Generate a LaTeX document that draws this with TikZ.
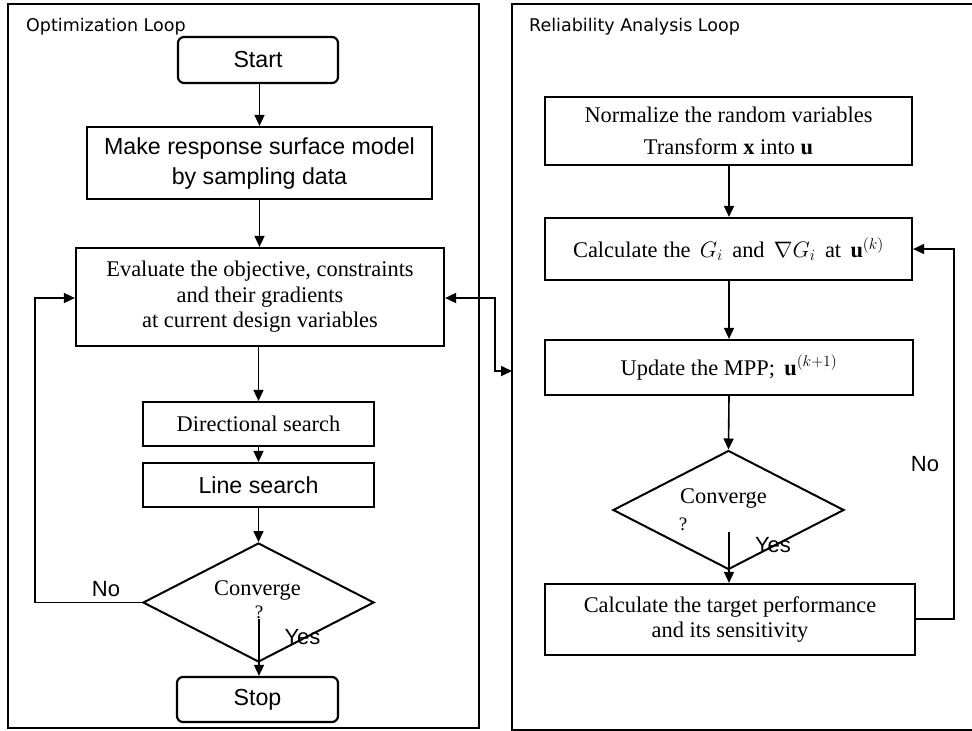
\RequirePackage{fix-cm}
\documentclass[tikz,border=0pt]{standalone}
\usepackage{fontspec}
\setmainfont{Liberation Serif}
\setsansfont{Liberation Sans}
\newfontfamily\titlefont{DejaVu Sans}
\usetikzlibrary{shapes.geometric,arrows.meta}
\begin{document}
\begin{tikzpicture}[x=1pt,y=-1pt,
  frame/.style={line width=1.5pt},
  box/.style={draw,line width=2.2pt,inner sep=0pt,align=center,font=\fontsize{22.4}{25.5}\selectfont},
  sbox/.style={box,font=\sffamily\fontsize{23.2}{30}\selectfont},
  rbox/.style={sbox,rounded corners=6pt},
  dia/.style={draw,diamond,line width=2pt,inner sep=0pt},
  conn/.style={line width=1.6pt,-{Triangle[length=11pt,width=10pt]}},
  biconn/.style={line width=1.8pt,{Triangle[length=11pt,width=10pt]}-{Triangle[length=11pt,width=10pt]}},
  lbl/.style={inner sep=0pt,font=\sffamily\fontsize{22}{22}\selectfont},
  slbl/.style={inner sep=0pt,font=\fontsize{22.4}{22}\selectfont},
  qlbl/.style={inner sep=0pt,font=\fontsize{19}{19}\selectfont},
  ttl/.style={inner sep=0pt,anchor=base west,font=\titlefont\fontsize{17.5}{17.5}\selectfont}]
\useasboundingbox (0,0) rectangle (972,731);
\fill[white] (0,0) rectangle (972,731);
% frames
\draw[frame] (8,4) rectangle (479,728);
\draw[frame] (972,4) -- (512,4) -- (512,730) -- (972,730);
\node[ttl] (t1) at (26,31) {Optimization Loop};
\node[ttl] (t2) at (529,31) {Reliability Analysis Loop};
% left loop
\node[rbox,minimum width=160pt,minimum height=46pt] (start) at (258,60) {Start};
\node[sbox,minimum width=345pt,minimum height=72pt] (make) at (259.5,163) {Make response surface model\\by sampling data};
\node[box,minimum width=368pt,minimum height=98pt] (eval) at (260,297) {Evaluate the objective, constraints\\and their gradients\\at current design variables};
\node[box,minimum width=231pt,minimum height=44pt] (dir) at (258.5,424) {Directional search};
\node[sbox,minimum width=231pt,minimum height=44pt] (line) at (258.5,485) {Line search};
\node[dia,minimum width=231pt,minimum height=119pt] (conv1) at (258.5,602.5) {};
\node[slbl] (c1t) at (257.5,590) {Converge};
\node[qlbl] (c1q) at (259,612) {?};
\node[rbox,minimum width=161pt,minimum height=45pt] (stop) at (257.5,699.5) {Stop};
\node[lbl] (no1) at (106,589) {No};
\node[lbl] (yes1) at (302.5,637) {Yes};
\coordinate (y1s) at (259,619);
\draw[conn] (start.south -| make.north) -- (make.north);
\draw[conn] (make) -- (make.south |- eval.north);
\draw[conn] (eval.south -| dir.north) -- (dir.north);
\draw[conn] (dir) -- (line);
\draw[conn] (line) -- (conv1.north);
\draw[conn] (y1s) -- (y1s |- stop.north);
\draw[conn] (conv1.west) -- (35,602.5) -- (35,298) -- (eval.west |- 0,298);
\draw[biconn] (eval.east |- 0,298) -- (495,298) -- (495,371) -- (512,371);
% right loop
\node[box,minimum width=367pt,minimum height=68pt,font=\fontsize{22.4}{32}\selectfont] (norm) at (728.5,131) {Normalize the random variables\\Transform $\mathbf{x}$ into $\mathbf{u}$};
\node[box,minimum width=367pt,minimum height=62pt] (calc) at (728.5,249) {Calculate the~\,$G_i$~\,and~\,$\nabla G_i$~\,at~\,$\mathbf{u}^{(k)}$};
\node[box,minimum width=368pt,minimum height=55pt] (upd) at (729,367.5) {Update the MPP;~\,$\mathbf{u}^{(k+1)}$};
\node[dia,minimum width=231pt,minimum height=119pt] (conv2) at (728.5,510) {};
\node[slbl] (c2t) at (723.5,498) {Converge};
\node[qlbl] (c2q) at (683,524) {?};
\node[box,minimum width=370pt,minimum height=71pt] (targ) at (730,619.5) {Calculate the target performance\\and its sensitivity};
\node[lbl] (no2) at (925,464) {No};
\node[lbl] (yes2) at (773,545) {Yes};
\coordinate (y2s) at (729,532);
\draw[conn] (norm.south -| 729,0) -- (calc.north -| 729,0);
\draw[conn] (calc.south -| 729,0) -- (upd.north -| 729,0);
\draw[conn] (upd.south -| 729,0) -- (conv2.north);
\draw[conn] (y2s) -- (y2s |- targ.north);
\draw[conn] (targ.east |- 0,619) -- (954,619) -- (954,249) -- (calc.east);
\end{tikzpicture}
\end{document}
